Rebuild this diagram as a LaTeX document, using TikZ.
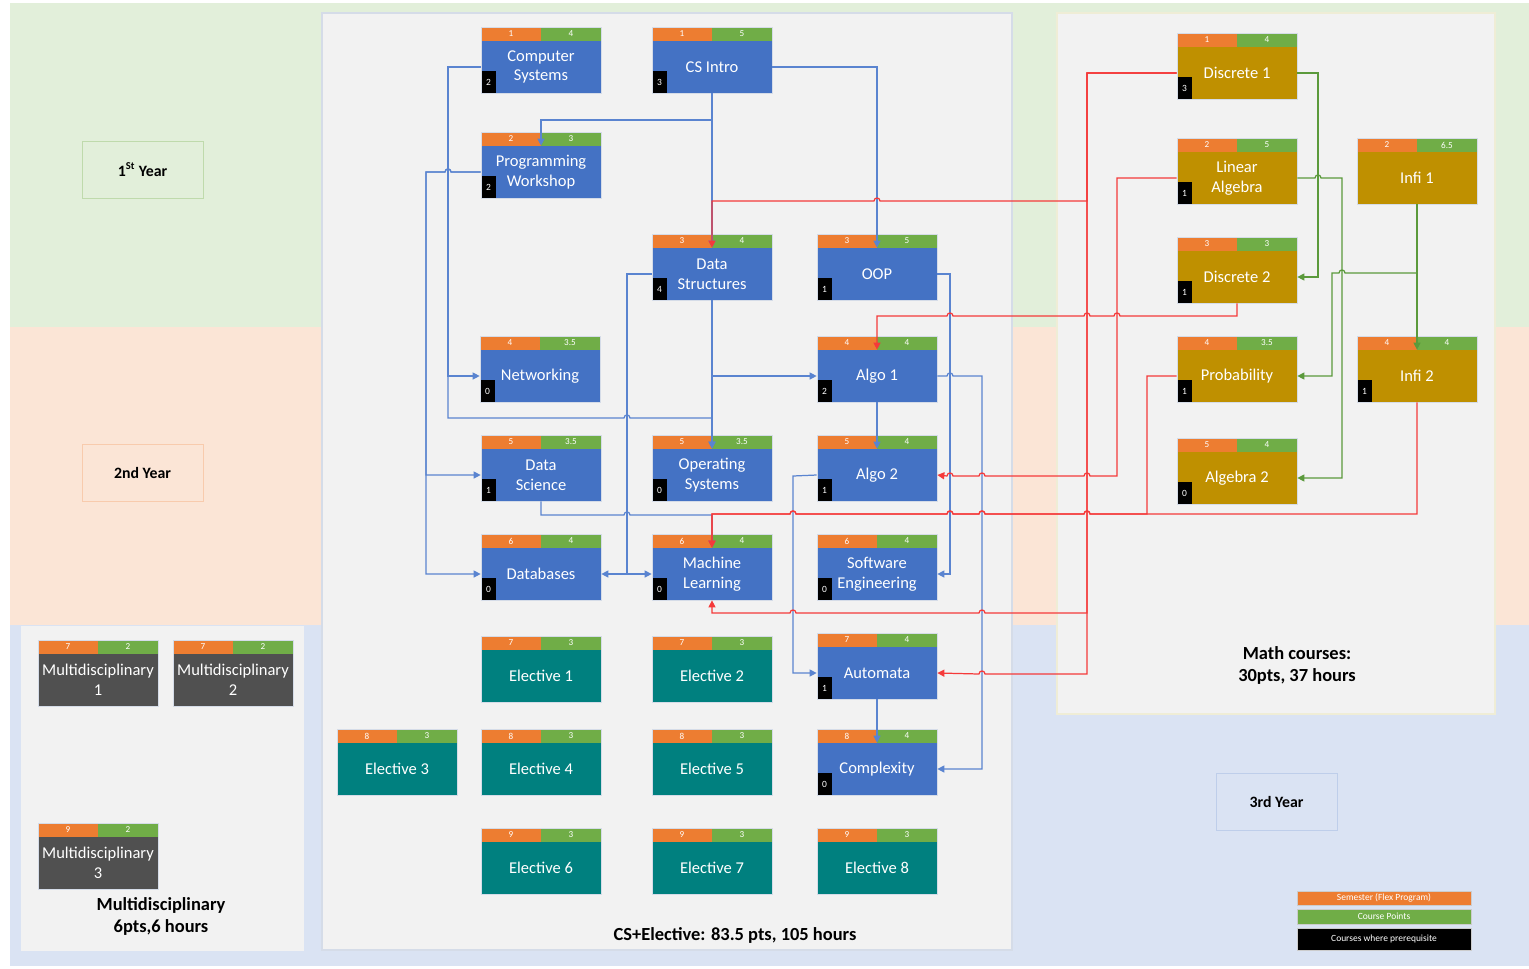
\documentclass[tikz,border=0pt]{standalone}
\usepackage{fontspec}
\setmainfont{Carlito}
\usetikzlibrary{arrows.meta}

\definecolor{bandG}{HTML}{E2EFDA}
\definecolor{bandO}{HTML}{FBE5D6}
\definecolor{bandB}{HTML}{DAE3F3}
\definecolor{panel}{HTML}{F2F2F2}
\definecolor{cblue}{HTML}{4472C4}
\definecolor{cgold}{HTML}{BF9000}
\definecolor{cteal}{HTML}{00807F}
\definecolor{cgray}{HTML}{505050}
\definecolor{semfill}{HTML}{ED7D31}
\definecolor{ptsfill}{HTML}{70AD47}
\definecolor{boxline}{HTML}{D5DCE8}
\definecolor{lnBlue}{HTML}{5A84D0}
\definecolor{lnRed}{HTML}{F53A3A}
\definecolor{lnGreen}{HTML}{5B9A3C}

\tikzset{
  hdr/.style={inner sep=0pt, text=white, font=\fontsize{5.2}{6}\selectfont},
  cbody/.style={minimum width=2.4cm, minimum height=1.04cm, inner sep=0pt,
    text=white, align=center, font=\fontsize{9.4}{11.3}\selectfont},
  prq/.style={fill=black, minimum width=0.3cm, minimum height=0.44cm, inner sep=0pt,
    text=white, font=\fontsize{5.4}{6}\selectfont},
  boxedge/.style={draw=boxline, line width=0.5pt},
  tip/.style={-{Triangle[length=4pt,width=4pt]}},
  bl/.style={draw=lnBlue, line width=0.7pt, tip},
  rd/.style={draw=lnRed, line width=0.7pt, tip},
  gr/.style={draw=lnGreen, line width=0.7pt, tip},
  yearbox/.style={minimum width=2.42cm, minimum height=1.14cm, inner sep=0pt,
    line width=0.4pt, font=\bfseries\fontsize{9}{11}\selectfont},
  ttl/.style={align=center, inner sep=0pt, font=\bfseries\fontsize{10.5}{13}\selectfont},
  leg/.style={minimum width=3.48cm, inner sep=0pt, text=white, draw=white!60!gray,
    line width=0.3pt, font=\fontsize{5.4}{6}\selectfont},
}

% course card: name, left x, top y, body colour, title, semester, points, prerequisite count
\newcommand\coursebox[8]{%
  \fill[semfill] (#2,#3) rectangle ++(60,14);
  \fill[ptsfill] ({#2+60},#3) rectangle ++(60,14);
  \node[hdr] (#1-s) at ({#2+30},{#3+7}) {#6};
  \node[hdr] (#1-p) at ({#2+90},{#3+7}) {#7};
  \node[cbody, fill=#4] (#1) at ({#2+60},{#3+40}) {#5};
  \ifx\relax#8\relax\else
    \node[prq] (#1-q) at ({#2+7.5},{#3+55}) {#8};
  \fi
  \draw[boxedge] (#2,#3) rectangle ({#2+120},{#3+66});
}

\begin{document}
\begin{tikzpicture}[x=0.02cm, y=-0.02cm]
\useasboundingbox (0,0) rectangle (1529,968);
\fill[white] (0,0) rectangle (1529,968);

% year bands
\fill[bandG] (10,3) rectangle (1529,327);
\fill[bandO] (10,327) rectangle (1529,625);
\fill[bandB] (10,625) rectangle (1529,966);

% panels
\filldraw[fill=panel, draw=boxline, line width=0.6pt] (322,13) rectangle (1012,950);
\filldraw[fill=panel, draw=bandG!70!cgold!40, line width=0.6pt] (1057,13) rectangle (1495,714);
\filldraw[fill=panel, draw=white!90!gray, line width=0.6pt] (22,627) rectangle (303,950);

% year labels
\node[yearbox, fill=bandG, draw=ptsfill!45] (y1) at (142.5,169.5) {1\textsuperscript{St} Year};
\node[yearbox, fill=bandO, draw=semfill!40] (y2) at (142.5,472.5) {2nd Year};
\node[yearbox, fill=bandB, draw=cblue!35] (y3) at (1276.5,801.5) {3rd Year};

% computer science courses
\coursebox{csys}{481}{27}{cblue}{Computer\\Systems}{1}{4}{2}
\coursebox{csi}{652}{27}{cblue}{CS Intro}{1}{5}{3}
\coursebox{pw}{481}{132}{cblue}{Programming\\Workshop}{2}{3}{2}
\coursebox{ds}{652}{234}{cblue}{Data\\Structures}{3}{4}{4}
\coursebox{oop}{817}{234}{cblue}{OOP}{3}{5}{1}
\coursebox{net}{480}{336}{cblue}{Networking}{4}{3.5}{0}
\coursebox{a1}{817}{336}{cblue}{Algo 1}{4}{4}{2}
\coursebox{dsc}{481}{435}{cblue}{Data\\Science}{5}{3.5}{1}
\coursebox{os}{652}{435}{cblue}{Operating\\Systems}{5}{3.5}{0}
\coursebox{a2}{817}{435}{cblue}{Algo 2}{5}{4}{1}
\coursebox{db}{481}{534}{cblue}{Databases}{6}{4}{0}
\coursebox{ml}{652}{534}{cblue}{Machine\\Learning}{6}{4}{0}
\coursebox{se}{817}{534}{cblue}{Software\\Engineering}{6}{4}{0}
\coursebox{au}{817}{633}{cblue}{Automata}{7}{4}{1}
\coursebox{cx}{817}{729}{cblue}{Complexity}{8}{4}{0}

% electives
\coursebox{e1}{481}{636}{cteal}{Elective 1}{7}{3}{}
\coursebox{e2}{652}{636}{cteal}{Elective 2}{7}{3}{}
\coursebox{e3}{337}{729}{cteal}{Elective 3}{8}{3}{}
\coursebox{e4}{481}{729}{cteal}{Elective 4}{8}{3}{}
\coursebox{e5}{652}{729}{cteal}{Elective 5}{8}{3}{}
\coursebox{e6}{481}{828}{cteal}{Elective 6}{9}{3}{}
\coursebox{e7}{652}{828}{cteal}{Elective 7}{9}{3}{}
\coursebox{e8}{817}{828}{cteal}{Elective 8}{9}{3}{}

% math courses
\coursebox{d1}{1177}{33}{cgold}{Discrete 1}{1}{4}{3}
\coursebox{la}{1177}{138}{cgold}{Linear\\Algebra}{2}{5}{1}
\coursebox{i1}{1357}{138}{cgold}{Infi 1}{2}{6.5}{}
\coursebox{d2}{1177}{237}{cgold}{Discrete 2}{3}{3}{1}
\coursebox{prob}{1177}{336}{cgold}{Probability}{4}{3.5}{1}
\coursebox{i2}{1357}{336}{cgold}{Infi 2}{4}{4}{1}
\coursebox{alg2}{1177}{438}{cgold}{Algebra 2}{5}{4}{0}

% multidisciplinary courses
\coursebox{m1}{38}{640}{cgray}{Multidisciplinary\\1}{7}{2}{}
\coursebox{m2}{173}{640}{cgray}{Multidisciplinary\\2}{7}{2}{}
\coursebox{m3}{38}{823}{cgray}{Multidisciplinary\\3}{9}{2}{}

% panel titles
\node[ttl] (cst) at (735,935) {CS+Elective: 83.5 pts, 105 hours};
\node[ttl] (mat) at (1297,665.5) {Math courses:\\30pts, 37 hours};
\node[ttl] (mdt) at (161,916.5) {Multidisciplinary\\6pts,6 hours};

% legend
\node[leg, fill=semfill, minimum height=0.28cm] (lg1) at (1384,898) {Semester (Flex Program)};
\node[leg, fill=ptsfill, minimum height=0.3cm] (lg2) at (1384,916.5) {Course Points};
\node[leg, fill=black, minimum height=0.44cm] (lg3) at (1384,939) {Courses where prerequisite};

% CS prerequisites
\draw[bl] (csi.south) -- (712,120) -| (pw.north);
\draw[bl] (csi.south) -- (ds.north);
\draw[bl] (csi.east) -| (oop.north);
\draw[bl] (csys.west) -- (448,67) |- (net.west);
\draw[bl] (csys.west) -- (448,67) -- (448,418) -- (624,418)
  .. controls +(0,-4) and +(0,-4) .. (630,418) -- (712,418) -- (os.north);
\draw[bl] (pw.west) -- (451,172) .. controls +(0,-4) and +(0,-4) .. (445,172)
  -- (426,172) |- (dsc.west);
\draw[bl] (pw.west) -- (451,172) .. controls +(0,-4) and +(0,-4) .. (445,172)
  -- (426,172) |- (db.west);
\draw[bl] (ds.west) -- (627,274) |- (db.east);
\draw[bl] (ds.west) -- (627,274) |- (ml.west);
\draw[bl] (ds.south) |- (a1.west);
\draw[bl] (ds.south) -- (os.north);
\draw[bl] (dsc.south) -- (541,515) -- (624,515)
  .. controls +(0,-4) and +(0,-4) .. (630,515) -- (712,515) -- (ml.north);
\draw[bl] (oop.east) -- (950,274) |- (se.east);
\draw[bl] (a1.south) -- (a2.north);
\draw[bl] (a1.east) -- (947,376) .. controls +(0,-4) and +(0,-4) .. (953,376)
  -- (982,376) |- (cx.east);
\draw[bl] (a2.west) -- (793,476) |- (au.west);
\draw[bl] (au.south) -- (cx.north);

% math prerequisites of CS courses
\draw[rd] (d1.west) -- (1087,73) -- (1087,201) -- (880,201)
  .. controls +(0,-4) and +(0,-4) .. (874,201) -- (712,201) -- (ds.north);
\draw[rd] (d1.west) -- (1087,73) -- (1087,613) -- (985,613)
  .. controls +(0,-4) and +(0,-4) .. (979,613) -- (796,613)
  .. controls +(0,-4) and +(0,-4) .. (790,613) -- (712,613) -- (ml.south);
\draw[rd] (d1.west) -- (1087,73) -- (1087,674) -- (985,674)
  .. controls +(0,-4) and +(0,-4) .. (979,674) -- (au.east);
\draw[rd] (la.west) -- (1117,178) -- (1117,476) -- (1090,476)
  .. controls +(0,-4) and +(0,-4) .. (1084,476) -- (985,476)
  .. controls +(0,-4) and +(0,-4) .. (979,476) -- (953,476)
  .. controls +(0,-4) and +(0,-4) .. (947,476) -- (a2.east);
\draw[rd] (d2.south) -- (1237,316) -- (1120,316)
  .. controls +(0,-4) and +(0,-4) .. (1114,316) -- (1090,316)
  .. controls +(0,-4) and +(0,-4) .. (1084,316) -- (953,316)
  .. controls +(0,-4) and +(0,-4) .. (947,316) -- (877,316) -- (a1.north);
\draw[rd] (i2.south) -- (1417,514) -- (1147,514) -- (1090,514)
  .. controls +(0,-4) and +(0,-4) .. (1084,514) -- (985,514)
  .. controls +(0,-4) and +(0,-4) .. (979,514) -- (953,514)
  .. controls +(0,-4) and +(0,-4) .. (947,514) -- (796,514)
  .. controls +(0,-4) and +(0,-4) .. (790,514) -- (712,514) -- (ml.north);
\draw[rd] (prob.west) -- (1147,376) -- (1147,514) -- (1090,514)
  .. controls +(0,-4) and +(0,-4) .. (1084,514) -- (985,514)
  .. controls +(0,-4) and +(0,-4) .. (979,514) -- (953,514)
  .. controls +(0,-4) and +(0,-4) .. (947,514) -- (796,514)
  .. controls +(0,-4) and +(0,-4) .. (790,514) -- (712,514) -- (ml.north);

% math prerequisites of math courses
\draw[gr] (d1.east) -- (1318,73) |- (d2.east);
\draw[gr] (la.east) -- (1315,178) .. controls +(0,-4) and +(0,-4) .. (1321,178)
  -- (1342,178) |- (alg2.east);
\draw[gr] (i1.south) -- (i2.north);
\draw[gr] (i1.south) -- (1417,273) -- (1345,273)
  .. controls +(0,-4) and +(0,-4) .. (1339,273) -- (1332,273) |- (prob.east);
\end{tikzpicture}
\end{document}
